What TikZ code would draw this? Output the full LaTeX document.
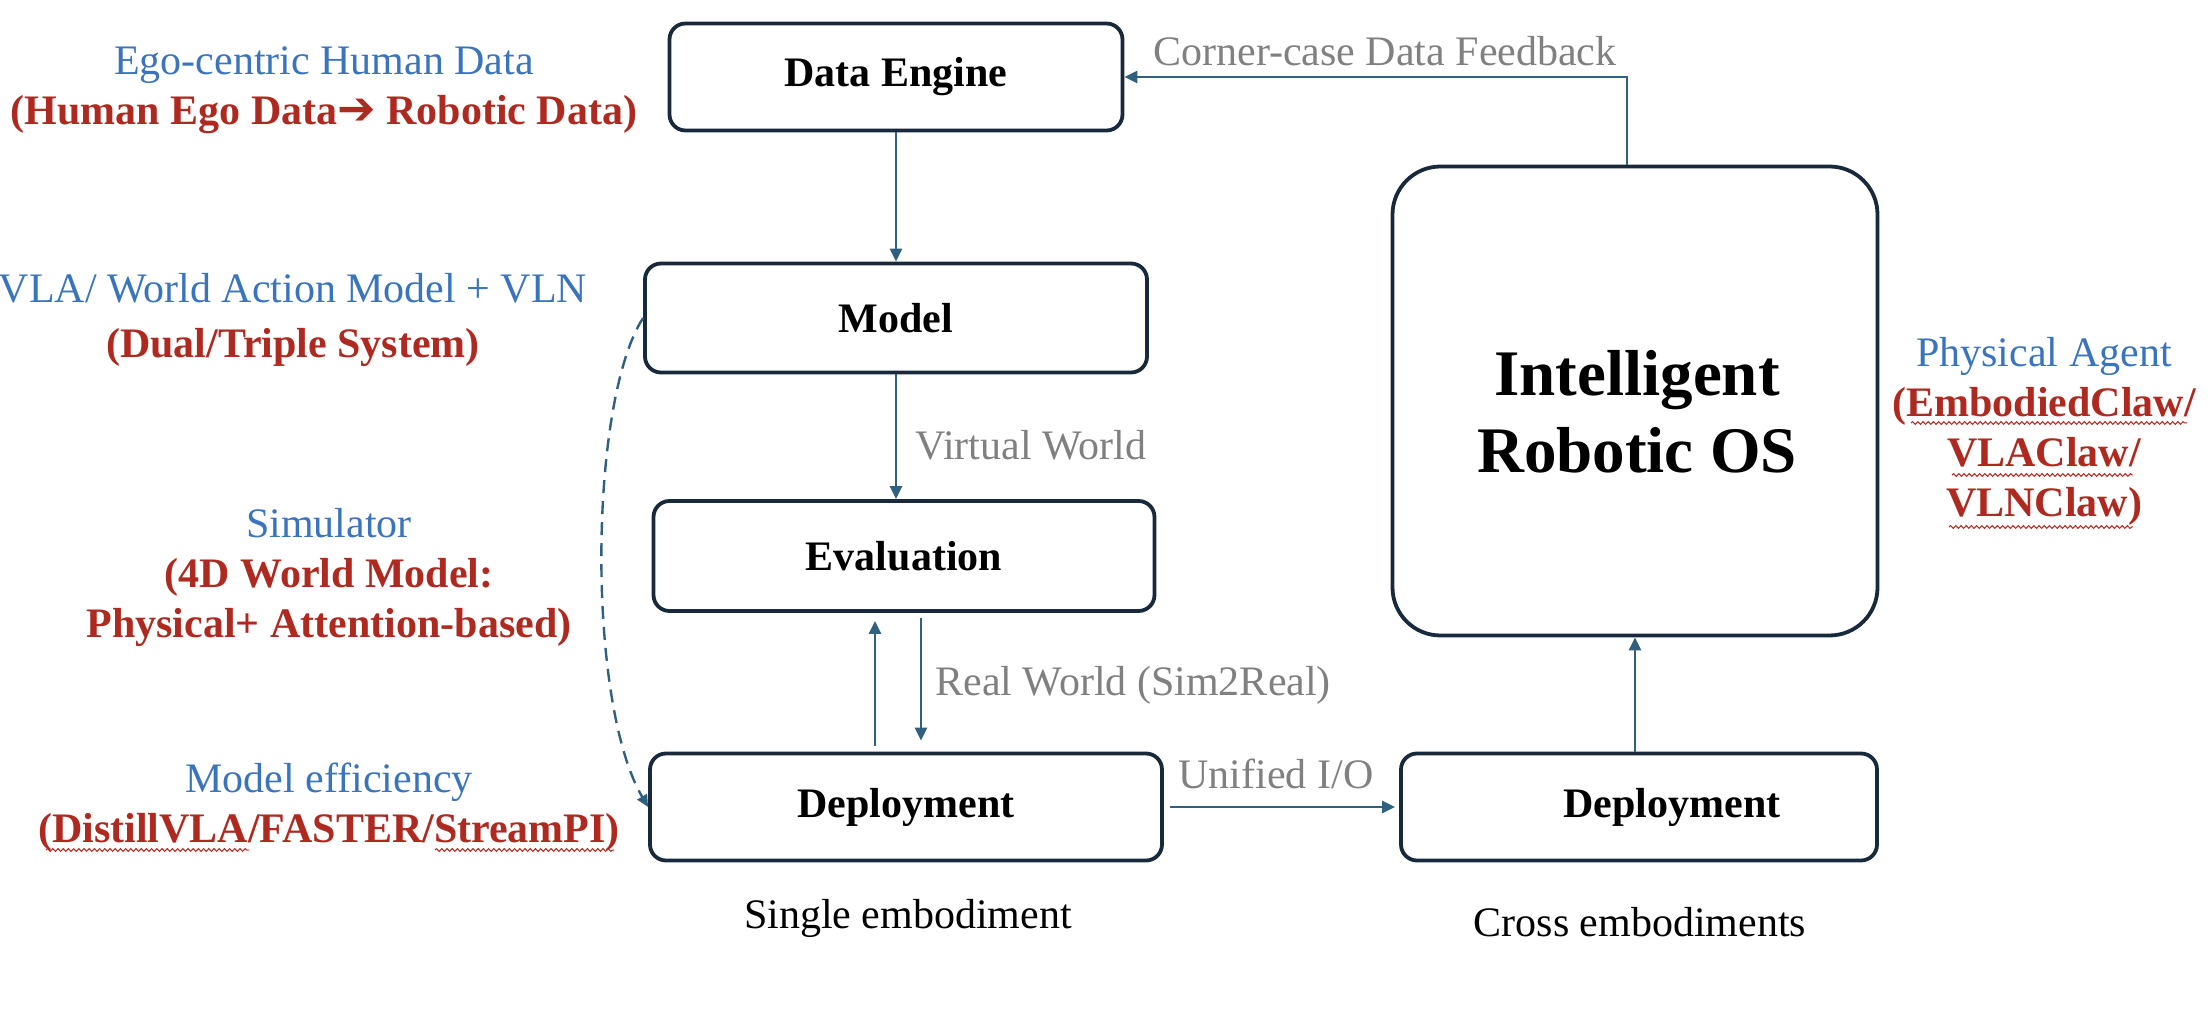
\documentclass[tikz,border=0pt]{standalone}
\usepackage{fontspec}
\setmainfont{Liberation Serif}
\newfontfamily\djv{DejaVu Sans}
\usetikzlibrary{arrows.meta,decorations.pathmorphing}
\definecolor{lblue}{HTML}{3A74BD}
\definecolor{lred}{HTML}{AE2A20}
\definecolor{lgray}{HTML}{808080}
\definecolor{arr}{HTML}{30607F}
\definecolor{boxc}{HTML}{17293A}
\begin{document}
\begin{tikzpicture}[x=0.5pt,y=-0.5pt,
  box/.style={draw=boxc,line width=1.9pt,rounded corners=8pt,fill=white,inner sep=0pt,font=\fontsize{21}{25}\selectfont\bfseries},
  conn/.style={draw=arr,line width=1.25pt,-{Triangle[length=6.5pt,width=6pt]}},
  lab/.style={inner sep=0pt,align=center,font=\fontsize{21}{25}\selectfont},
  glab/.style={inner sep=0pt,font=\fontsize{21}{25}\selectfont,text=lgray},
  wave/.style={draw=lred!85!red,line width=0.5pt,decorate,decoration={snake,amplitude=0.7pt,segment length=2.6pt}}]
\useasboundingbox (0,0) rectangle (2208,1010);
% boxes
\node[box,minimum width=226.5pt,minimum height=53.5pt] (de) at (896,77) {Data Engine};
\node[box,minimum width=251pt,minimum height=54.5pt] (model) at (896,318) {Model};
\node[box,minimum width=250.5pt,minimum height=55pt] (eval) at (904,556) {Evaluation};
\node[box,minimum width=256pt,minimum height=53.5pt] (depL) at (906,807) {Deployment};
\node[box,minimum width=238pt,minimum height=53.5pt] (depR) at (1639,807) {\hspace*{33pt}Deployment};
\node[box,rounded corners=24pt,minimum width=242.5pt,minimum height=234.5pt] (os) at (1635,401) {};
\node[inner sep=0pt,align=center,font=\fontsize{32.5}{38.5}\selectfont\bfseries] (ostxt) at (1637,412) {Intelligent\\Robotic OS};
% connectors
\draw[conn] (de.south) -- (model.north);
\draw[conn] (model.south) -- (model.south |- eval.north);
\draw[conn,shorten <=3pt,shorten >=4pt] ([xshift=-15.5pt]depL.north) -- ([xshift=-15.5pt]depL.north |- eval.south);
\draw[conn,shorten <=2.5pt,shorten >=5.5pt] ([xshift=7.5pt]depL.north |- eval.south) -- ([xshift=7.5pt]depL.north);
\draw[conn,shorten <=3pt,shorten >=2pt] (depL.east) -- (depR.west);
\draw[conn] (os.south |- depR.north) -- (os.south);
\draw[conn] ([xshift=-4pt]os.north) |- (de.east);
\draw[draw=arr,line width=1.2pt,dash pattern=on 6.5pt off 4pt,-{Triangle[length=6pt,width=5.5pt]}]
  (model.west) .. controls +(-54,83) and +(-62,-106) .. (depL.west);
% connector labels
\node[glab,anchor=west] (vw) at (915,445) {Virtual World};
\node[glab,anchor=west] (rw) at (935,685) {Real World (Sim2Real)};
\node[glab] (uio) at (1276,774) {Unified I/O};
\node[glab] (ccf) at (1385,51) {Corner-case Data Feedback};
% side labels
\node[lab] (ego) at (324,90) {{\color{lblue}Ego-centric Human Data}\\{\color{lred}\bfseries(Human Ego Data{\djv\fontsize{23}{25}\selectfont ➔} Robotic Data)}};
\node[lab] (vla) at (293,320) {{\color{lblue}VLA/ World Action Model + VLN}\\[2.5pt]{\color{lred}\bfseries(Dual/Triple System)}};
\node[lab] (sim) at (329,577) {{\color{lblue}Simulator}\\{\color{lred}\bfseries(4D World Model:}\\{\color{lred}\bfseries Physical+ Attention-based)}};
\node[lab] (eff) at (329,807) {{\color{lblue}Model efficiency}\\{\color{lred}\bfseries(DistillVLA/FASTER/StreamPI)}};
\node[lab] (phys) at (2044,431) {{\color{lblue}Physical Agent}\\{\color{lred}\bfseries(EmbodiedClaw/}\\{\color{lred}\bfseries VLAClaw/}\\{\color{lred}\bfseries VLNClaw)}};
\node[lab] (single) at (908,918) {Single embodiment};
\node[lab] (cross) at (1640,922) {Cross embodiments};
% spell-check wavy underlines
\draw[wave] (46,850) -- (249,850);
\draw[wave] (435,850) -- (614,850);
\draw[wave] (1911,423) -- (2187,423);
\draw[wave] (1952,475) -- (2133,475);
\draw[wave] (1949,527) -- (2133,527);
\end{tikzpicture}
\end{document}
